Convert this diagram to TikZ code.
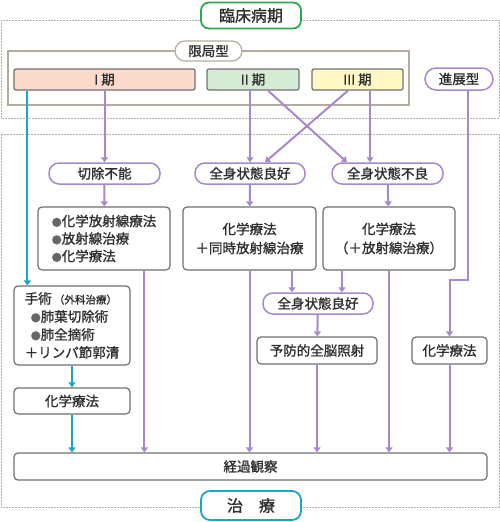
\documentclass[tikz,border=0pt]{standalone}
\usepackage{fontspec}
\setmainfont{Noto Sans CJK JP}[FakeBold=1.1]
\usetikzlibrary{arrows.meta}
\definecolor{purp}{HTML}{A888CC}
\definecolor{cyanl}{HTML}{1AA7C5}
\definecolor{grn}{HTML}{2EA84A}
\definecolor{bgray}{HTML}{707070}
\definecolor{tanc}{HTML}{B4AC9E}
\definecolor{txt}{HTML}{2E2E2E}
\definecolor{dgray}{HTML}{B0B0B0}
\definecolor{bul}{HTML}{666666}
\definecolor{fI}{HTML}{FADBCB}
\definecolor{fII}{HTML}{D6EBD6}
\definecolor{fIII}{HTML}{FFF8C4}
\newcommand{\bulx}{{\fontsize{10}{10}\selectfont\color{bul}●}}
\begin{document}
\begin{tikzpicture}[x=1pt,y=-1pt,
  every node/.style={text=txt, font=\fontsize{13.5}{17}\selectfont, inner sep=0pt},
  box/.style={draw=bgray, line width=1.2pt, rounded corners=4pt, fill=white, align=center},
  pill/.style={draw=purp, line width=1.5pt, rounded corners=10pt, fill=white, align=center},
  stagebox/.style={draw=bgray, line width=1.2pt, rounded corners=2pt},
  frame/.style={draw=dgray, line width=0.8pt, dash pattern=on 2pt off 1pt},
  arr/.style={draw=purp, line width=2pt, -{Triangle[width=7pt,length=5pt]}},
  carr/.style={draw=cyanl, line width=2pt, -{Triangle[width=7pt,length=5pt]}}
]
\useasboundingbox (0,0) rectangle (500,522);
% dashed frames
\draw[frame] (1,20) rectangle (499,118);
\draw[frame] (1,134) rectangle (499,507);
% localized frame
\draw[draw=tanc, line width=1.2pt] (8,51) rectangle (409,105);
\node[draw=tanc, line width=1.2pt, rounded corners=10pt, fill=white, minimum width=67pt, minimum height=20pt] (loc) at (208.5,51) {限局型};
% title
\node[draw=grn, line width=1.8pt, rounded corners=8pt, fill=white, minimum width=100pt, minimum height=26pt, font=\fontsize{16}{18}\selectfont] (rin) at (251,15.5) {臨床病期};
% stages
\node[stagebox, fill=fI, minimum width=181pt, minimum height=21pt] (s1) at (104.5,79.5) {I 期};
\node[stagebox, fill=fII, minimum width=92pt, minimum height=21pt] (s2) at (253,79.5) {II 期};
\node[stagebox, fill=fIII, minimum width=91pt, minimum height=21pt] (s3) at (357.5,79.5) {III 期};
\node[pill, minimum width=68pt, minimum height=22pt, rounded corners=11pt] (adv) at (459,79) {進展型};
% middle pills
\node[pill, minimum width=111pt, minimum height=21pt] (kj) at (104.5,173.5) {切除不能};
\node[pill, minimum width=110pt, minimum height=21pt] (r1) at (250,173.5) {全身状態良好};
\node[pill, minimum width=111pt, minimum height=21pt] (fr) at (387.5,173.5) {全身状態不良};
% boxes
\node[box, minimum width=132pt, minimum height=63pt, align=left, font=\fontsize{13.5}{17.5}\selectfont] (lst) at (104,238.5)
  {\bulx 化学放射線療法\\\bulx 放射線治療\\\bulx 化学療法};
\node[box, minimum width=133pt, minimum height=63pt, font=\fontsize{13.5}{19}\selectfont] (mid) at (249.5,238.5) {化学療法\\＋同時放射線治療};
\node[box, minimum width=132pt, minimum height=63pt, font=\fontsize{13.5}{19}\selectfont] (rgt) at (389,238.5) {化学療法\\（＋放射線治療）};
\node[pill, minimum width=110pt, minimum height=21pt] (r2) at (318,303.5) {全身状態良好};
\node[box, minimum width=120pt, minimum height=27pt] (pci) at (317,350.5) {予防的全脳照射};
\node[box, minimum width=75pt, minimum height=27pt] (chr) at (449.5,350.5) {化学療法};
\node[box, minimum width=116pt, minimum height=79pt, align=left, font=\fontsize{13.5}{18}\selectfont] (su) at (72,325.5)
  {手術\,{\fontsize{10.5}{12}\selectfont（外科治療）}\\\hspace{6pt}\bulx 肺葉切除術\\\hspace{6pt}\bulx 肺全摘術\\＋リンパ節郭清};
\node[box, minimum width=116pt, minimum height=26pt] (chl) at (72,401) {化学療法};
\node[box, minimum width=473pt, minimum height=27pt] (fu) at (250.5,466.5) {経過観察};
\node[draw=cyanl, line width=1.8pt, rounded corners=9pt, fill=white, minimum width=100pt, minimum height=29pt, font=\fontsize{16}{18}\selectfont] (tr) at (251,505.5) {治\hspace{1em}療};
% connectors
\draw[carr] ([xshift=14pt]s1.south west) -- ([xshift=14pt]su.north west);
\draw[carr] (su) -- (chl);
\draw[carr] (chl) -- (chl.south |- fu.north);
\draw[arr] (s1.south -| kj.north) -- (kj.north);
\draw[arr] (kj) -- (lst);
\draw[arr] ([xshift=107pt]lst.south west) -- ([xshift=107pt]lst.south west |- fu.north);
\draw[arr] (s2.south -| r1.north) -- (r1.north);
\draw[arr] ([xshift=15pt]s2.south) -- ([xshift=-40.5pt]fr.north);
\draw[arr] ([xshift=-9.5pt]s3.south) -- ([xshift=15pt]r1.north);
\draw[arr] (s3.south -| 370,0) -- (fr.north -| 370,0);
\draw[arr] (r1) -- (mid);
\draw[arr] (fr) -- (rgt);
\draw[arr] ([xshift=-26pt]r2.north |- mid.south) -- ([xshift=-26pt]r2.north);
\draw[arr] ([xshift=24pt]r2.north |- rgt.south) -- ([xshift=24pt]r2.north);
\draw[arr] (mid.south) -- (mid.south |- fu.north);
\draw[arr] (rgt.south) -- (rgt.south |- fu.north);
\draw[arr] (r2) -- (pci);
\draw[arr] (pci) -- (pci.south |- fu.north);
\draw[arr] (chr) -- (chr.south |- fu.north);
\coordinate (bend) at (468,280);
\draw[arr] (adv.south -| bend) -- (bend) -| (chr.north);
\end{tikzpicture}
\end{document}
